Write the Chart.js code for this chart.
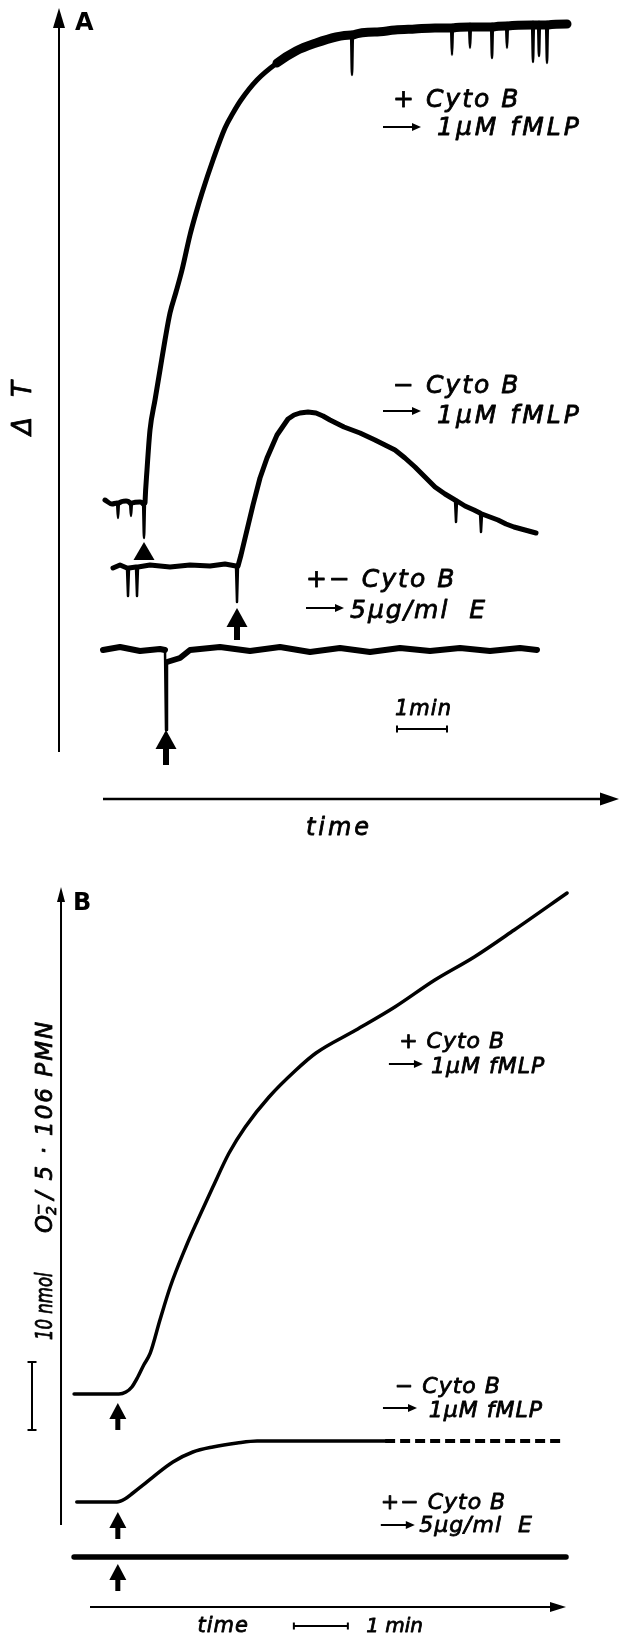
<!DOCTYPE html>
<html>
<head>
<meta charset="utf-8">
<script src="https://cdn.jsdelivr.net/npm/chart.js@4.4.1/dist/chart.umd.min.js"></script>
<style>
  body { margin: 0; background: #fff; }
  canvas { display: block; }
</style>
</head>
<body>
<canvas id="panelA" width="621" height="850"></canvas>
<canvas id="panelB" width="621" height="785"></canvas>
<script>
// ---------- Panel A : transmission change (ΔT, arb. units) vs time (min) ----------
// +Cyto B, 1 µM fMLP
const a1Time  = [0.10,0.24,0.34,0.36,0.38,0.52,0.60,0.62,0.64,0.80,0.86,0.88,0.90,0.94,1.00,1.10,1.20,1.30,1.40,1.52,1.64,1.80,1.92,2.04,2.26,2.50,2.66,2.82,3.14,3.54,3.92,4.32,4.72,5.02,5.04,5.06,5.50,5.90,6.30,6.70,7.02,7.04,7.06,7.38,7.40,7.42,7.82,7.84,7.86,8.12,8.14,8.16,8.64,8.66,8.68,8.76,8.78,8.80,8.92,8.94,8.96,9.34];
const a1Value = [2.50,2.46,2.47,2.32,2.47,2.49,2.47,2.34,2.47,2.48,2.46,2.12,2.47,2.80,3.20,3.50,3.80,4.10,4.37,4.58,4.80,5.15,5.37,5.57,5.90,6.22,6.37,6.50,6.70,6.87,6.99,7.07,7.13,7.15,6.75,7.15,7.18,7.20,7.21,7.22,7.22,6.95,7.22,7.23,7.02,7.23,7.23,6.92,7.23,7.24,7.02,7.24,7.25,6.88,7.25,7.25,6.94,7.25,7.25,6.87,7.25,7.26];
// -Cyto B, 1 µM fMLP
const a2Time  = [0.26,0.40,0.54,0.56,0.58,0.72,0.74,0.76,1.00,1.40,1.80,2.20,2.50,2.72,2.74,2.76,2.82,2.94,3.06,3.20,3.34,3.54,3.76,3.88,4.00,4.16,4.32,4.46,4.60,4.88,5.20,5.50,5.70,5.90,6.10,6.30,6.50,6.70,6.90,7.10,7.12,7.14,7.30,7.48,7.60,7.62,7.64,7.80,7.96,8.12,8.28,8.50,8.72];
const a2Value = [1.82,1.85,1.82,1.54,1.82,1.83,1.54,1.83,1.85,1.83,1.85,1.84,1.86,1.84,1.48,1.84,1.95,2.20,2.45,2.72,2.92,3.15,3.31,3.35,3.37,3.38,3.37,3.34,3.30,3.23,3.17,3.10,3.05,3.00,2.92,2.83,2.73,2.63,2.56,2.50,2.28,2.49,2.44,2.40,2.37,2.18,2.36,2.33,2.30,2.26,2.23,2.20,2.17];
// +/-Cyto B, 5 µg/ml E
const a3Time  = [0.06,0.40,0.80,1.20,1.30,1.32,1.34,1.60,1.80,2.40,3.00,3.60,4.20,4.80,5.40,6.00,6.60,7.20,7.80,8.40,8.74];
const a3Value = [1.00,1.03,0.99,1.01,1.00,0.20,0.88,0.92,1.00,1.03,0.99,1.03,0.98,1.02,0.98,1.02,0.99,1.02,0.99,1.02,1.00];
// stimulus additions (time, level of marker tip)
const aStimTime  = [0.88, 2.74, 1.32];
const aStimLevel = [2.08, 1.42, 0.20];

// ---------- Panel B : O2- production (nmol / 5·10^6 PMN) vs time (min) ----------
const b1Time = [-0.48,0.00,0.35,0.48,0.59,0.70,0.81,0.93,1.11,1.30,1.59,1.81,2.09,2.39,2.69,3.13,3.63,4.00,4.74,5.46,6.20,6.93,7.67,8.65];
const b1Nmol = [23.97,23.97,23.97,24.26,25.00,26.47,28.24,29.97,34.85,39.71,45.59,49.56,54.41,59.41,63.24,67.65,71.62,74.12,77.50,80.88,84.85,88.24,92.21,97.65];
const b2Time = [-0.43,0.31,0.46,0.61,0.80,0.98,1.35,1.72,2.09,2.54,2.91,5.28];
const b2Nmol = [8.09,8.09,8.53,9.41,10.59,11.76,13.97,15.44,16.18,16.76,17.06,17.06];
const b2DashTime = [5.28, 8.57];
const b2DashNmol = [17.06, 17.06];
const b3Time = [-0.48, 8.63];
const b3Nmol = [0, 0];
const bStimTime  = [0.33, 0.33, 0.33];
const bStimLevel = [22.65, 6.62, -1.03];

const FONT = '"DejaVu Sans", sans-serif';
const xy = (ts, vs) => ts.map((t, i) => ({ x: t, y: vs[i] }));

// thin injection spikes
const spikeWidth = (w) => (c) => {
  const dx = Math.abs(c.p1.parsed.x - c.p0.parsed.x);
  const dy = Math.abs(c.p1.parsed.y - c.p0.parsed.y);
  return dx < 0.025 && dy > 0.08 ? 2.5 : w(c);
};

function line(ctx, x0, y0, x1, y1, w) {
  ctx.lineWidth = w;
  ctx.beginPath(); ctx.moveTo(x0, y0); ctx.lineTo(x1, y1); ctx.stroke();
}

function axisArrow(ctx, x0, y0, x1, y1, w, len, hw) {
  const a = Math.atan2(y1 - y0, x1 - x0);
  const bx = x1 - Math.cos(a) * len, by = y1 - Math.sin(a) * len;
  line(ctx, x0, y0, bx + Math.cos(a) * 2, by + Math.sin(a) * 2, w);
  ctx.beginPath();
  ctx.moveTo(x1, y1);
  ctx.lineTo(bx - Math.sin(a) * hw / 2, by + Math.cos(a) * hw / 2);
  ctx.lineTo(bx + Math.sin(a) * hw / 2, by - Math.cos(a) * hw / 2);
  ctx.closePath(); ctx.fill();
}

function upArrow(ctx, x, y, m) {
  ctx.fillRect(x - m.shaft / 2, y + m.headH - 1, m.shaft, m.len - m.headH + 1);
  ctx.beginPath();
  ctx.moveTo(x, y); ctx.lineTo(x - m.headW / 2, y + m.headH); ctx.lineTo(x + m.headW / 2, y + m.headH);
  ctx.closePath(); ctx.fill();
}

function decorPlugin(d) {
  return {
    id: 'decor',
    afterDatasetsDraw(chart) {
      const ctx = chart.ctx;
      const X = t => chart.scales.x.getPixelForValue(t);
      const Y = v => chart.scales.y.getPixelForValue(v);
      ctx.save();
      ctx.fillStyle = '#000'; ctx.strokeStyle = '#000'; ctx.lineCap = 'butt';

      d.axes.forEach(a => axisArrow(ctx, X(a.from[0]), Y(a.from[1]), X(a.to[0]), Y(a.to[1]), a.width, a.len, a.hw));

      d.stimTime.forEach((t, i) => {
        const m = d.markers[i];
        const x = X(t), y = Y(d.stimLevel[i]);
        if (m.shape === 'triangle') {
          ctx.beginPath();
          ctx.moveTo(x, y); ctx.lineTo(x - m.w / 2, y + m.h); ctx.lineTo(x + m.w / 2, y + m.h);
          ctx.closePath(); ctx.fill();
        } else {
          upArrow(ctx, x, y, m);
        }
      });

      d.bars.forEach(b => {
        const x0 = X(b.from[0]), y0 = Y(b.from[1]), x1 = X(b.to[0]), y1 = Y(b.to[1]);
        line(ctx, x0, y0, x1, y1, b.width);
        const vert = Math.abs(x1 - x0) < 1;
        [[x0, y0], [x1, y1]].forEach(([px, py]) => {
          if (vert) line(ctx, px - b.tick / 2, py, px + b.tick / 2, py, 2);
          else line(ctx, px, py - b.tick / 2, px, py + b.tick / 2, 2);
        });
      });

      d.labelArrows.forEach(a => axisArrow(ctx, X(a.t0), Y(a.v), X(a.t1), Y(a.v), 2, 9, 8));

      d.labels.forEach(L => {
        ctx.save();
        ctx.translate(X(L.t), Y(L.v));
        if (L.rotate) ctx.rotate(-Math.PI / 2);
        if (L.stretch) ctx.scale(L.stretch, 1);
        ctx.font = (L.bold ? 'bold ' : 'italic ') + L.size + 'px ' + FONT;
        ctx.letterSpacing = (L.ls || 0) + 'px';
        ctx.textAlign = L.align || 'left';
        ctx.textBaseline = 'alphabetic';
        ctx.fillText(L.text, 0, 0);
        if (!L.bold) {           // hand-lettered look: slightly heavier strokes
          ctx.lineWidth = 0.8;
          ctx.lineJoin = 'round';
          ctx.strokeText(L.text, 0, 0);
        }
        ctx.restore();
      });
      ctx.restore();
    }
  };
}

function makePanel(id, datasets, xr, yr, decor) {
  return new Chart(document.getElementById(id), {
    type: 'line',
    data: { datasets },
    options: {
      responsive: false,
      animation: false,
      devicePixelRatio: 1,
      layout: { padding: 0 },
      scales: {
        x: { type: 'linear', min: xr[0], max: xr[1], display: false },
        y: { type: 'linear', min: yr[0], max: yr[1], display: false }
      },
      elements: {
        point: { radius: 0, hitRadius: 0 },
        line: { borderColor: '#000', fill: false, borderJoinStyle: 'round', borderCapStyle: 'round' }
      },
      plugins: { legend: { display: false }, tooltip: { enabled: false } }
    },
    plugins: [decorPlugin(decor)]
  });
}

// ----- Panel A -----
const arrowA = { shape: 'arrow', headW: 21, headH: 19, shaft: 6 };
makePanel('panelA', [
  { data: xy(a1Time, a1Value), borderWidth: 5, cubicInterpolationMode: 'monotone',
    segment: { borderWidth: spikeWidth(c => c.p0.parsed.x > 3.3 ? 9 : 5) } },
  { data: xy(a2Time, a2Value), borderWidth: 5, tension: 0,
    segment: { borderWidth: spikeWidth(() => 5) } },
  { data: xy(a3Time, a3Value), borderWidth: 6, tension: 0,
    segment: { borderWidth: spikeWidth(() => 6) } }
], [-2, 10.42], [-1, 7.5], {
  axes: [
    { from: [-0.82, -0.02], to: [-0.82, 7.42], width: 2, len: 20, hw: 12 },
    { from: [0.06, -0.49], to: [10.38, -0.49], width: 2.5, len: 19, hw: 13 }
  ],
  stimTime: aStimTime, stimLevel: aStimLevel,
  markers: [
    { shape: 'triangle', w: 21, h: 18 },
    Object.assign({ len: 32 }, arrowA),
    Object.assign({ len: 35 }, arrowA)
  ],
  bars: [ { from: [5.94, 0.21], to: [6.94, 0.21], width: 2, tick: 7 } ],
  labelArrows: [
    { t0: 5.66, t1: 6.42, v: 6.23 },
    { t0: 5.66, t1: 6.42, v: 3.39 },
    { t0: 4.12, t1: 4.88, v: 1.42 }
  ],
  labels: [
    { text: 'A', t: -0.5, v: 7.2, size: 24, bold: true },
    { text: 'Δ T', t: -1.38, v: 3.45, size: 26, ls: 6, align: 'center', rotate: true },
    { text: '+ Cyto B', t: 5.86, v: 6.43, size: 25, ls: 2 },
    { text: '1μM fMLP', t: 6.74, v: 6.15, size: 25, ls: 3 },
    { text: '− Cyto B', t: 5.86, v: 3.57, size: 25, ls: 2 },
    { text: '1μM fMLP', t: 6.74, v: 3.27, size: 25, ls: 3 },
    { text: '+− Cyto B', t: 4.12, v: 1.63, size: 25, ls: 2 },
    { text: '5μg/ml  E', t: 5.00, v: 1.32, size: 25, ls: 2 },
    { text: '1min', t: 5.90, v: 0.35, size: 21, ls: 1 },
    { text: 'time', t: 4.78, v: -0.85, size: 24, ls: 3, align: 'center' }
  ]
});

// ----- Panel B -----
const arrowB = { shape: 'arrow', headW: 17, headH: 16, shaft: 5, len: 27 };
makePanel('panelB', [
  { data: xy(b1Time, b1Nmol), borderWidth: 3.5, cubicInterpolationMode: 'monotone' },
  { data: xy(b2Time, b2Nmol), borderWidth: 3.5, cubicInterpolationMode: 'monotone' },
  { data: xy(b2DashTime, b2DashNmol), borderWidth: 4, borderDash: [10, 5], borderCapStyle: 'butt' },
  { data: xy(b3Time, b3Nmol), borderWidth: 5.5 }
], [-1.85185, 9.64815], [-11.47, 103.97], {
  axes: [
    { from: [-0.722, 4.71], to: [-0.722, 98.53], width: 2, len: 15, hw: 8 },
    { from: [-0.185, -7.35], to: [8.63, -7.35], width: 2, len: 16, hw: 10 }
  ],
  stimTime: bStimTime, stimLevel: bStimLevel,
  markers: [arrowB, arrowB, arrowB],
  bars: [
    { from: [3.59, -10.15], to: [4.59, -10.15], width: 2, tick: 7 },
    { from: [-1.259, 18.68], to: [-1.259, 28.68], width: 2, tick: 9 }
  ],
  labelArrows: [
    { t0: 5.35, t1: 5.98, v: 72.5 },
    { t0: 5.24, t1: 5.87, v: 21.91 },
    { t0: 5.20, t1: 5.83, v: 4.71 }
  ],
  labels: [
    { text: 'B', t: -0.5, v: 95.15, size: 24, bold: true },
    { text: '10 nmol', t: -0.889, v: 31.91, size: 23, stretch: 0.72, rotate: true },
    { text: 'O', t: -0.889, v: 47.65, size: 23, rotate: true },
    { text: '2', t: -0.815, v: 50.3, size: 14, rotate: true },
    { text: '−', t: -1.056, v: 50.3, size: 14, rotate: true },
    { text: ' / 5 · 106 PMN', t: -0.889, v: 51.2, size: 23, ls: 2, rotate: true },
    { text: '+ Cyto B', t: 5.54, v: 74.85, size: 22, ls: 1 },
    { text: '1μM fMLP', t: 6.13, v: 71.18, size: 22, ls: 1 },
    { text: '− Cyto B', t: 5.46, v: 24.12, size: 22, ls: 1 },
    { text: '1μM fMLP', t: 6.09, v: 20.59, size: 22, ls: 1 },
    { text: '+− Cyto B', t: 5.20, v: 7.06, size: 22, ls: 1 },
    { text: '5μg/ml  E', t: 5.91, v: 3.68, size: 22, ls: 1 },
    { text: 'time', t: 2.28, v: -11.03, size: 21, ls: 1, align: 'center' },
    { text: '1 min', t: 4.93, v: -11.03, size: 20 }
  ]
});
</script>
</body>
</html>
